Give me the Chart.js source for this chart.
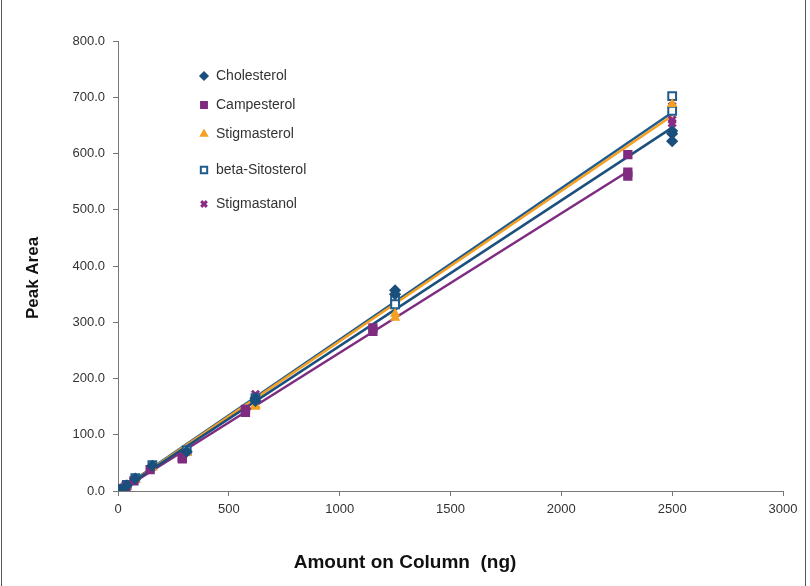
<!DOCTYPE html>
<html>
<head>
<meta charset="utf-8">
<script src="https://cdn.jsdelivr.net/npm/chart.js@4.4.1/dist/chart.umd.min.js"></script>
<style>
  html, body { margin: 0; padding: 0; background: #fff; }
  #wrap { width: 810px; height: 586px; position: relative; }
</style>
</head>
<body>
<div id="wrap"><canvas id="chart"></canvas></div>
<script>
// Data (amount in ng, peak area)
const seriesNames = ["Cholesterol", "Campesterol", "Stigmasterol", "beta-Sitosterol", "Stigmastanol"]

const cholAmount = [5, 10, 40, 78, 155, 310, 620, 620, 1250, 1250, 2500, 2500, 2500]
const cholArea = [1, 3, 10, 22, 45, 70, 160, 165, 357, 350, 640, 635, 622]

const campAmount = [5, 9, 36, 72, 145, 290, 290, 575, 575, 1150, 1150, 2300, 2300, 2300]
const campArea = [0, 2, 8, 18, 38, 60, 57, 140, 145, 290, 284, 598, 567, 560]

const stigAmount = [5, 10, 40, 78, 155, 310, 620, 620, 1250, 1250, 2500]
const stigArea = [1, 3, 9, 20, 42, 68, 150, 153, 315, 308, 688]

const sitoAmount = [5, 10, 40, 78, 155, 310, 620, 1250, 1250, 2500, 2500]
const sitoArea = [1, 3, 11, 23, 46, 72, 165, 342, 332, 702, 676]

const stanolAmount = [5, 10, 40, 78, 155, 310, 620, 1250, 2500, 2500, 2500]
const stanolArea = [1, 3, 10, 21, 43, 70, 172, 345, 684, 660, 654]

// trend lines: [start amount, end amount] and fitted areas
const cholLineX = [0, 2500]
const cholLineY = [-1, 646]
const campLineX = [0, 2300]
const campLineY = [-2, 568]
const stigLineX = [0, 2500]
const stigLineY = [-1, 667]
const sitoLineX = [0, 2500]
const sitoLineY = [0, 673]

const xTicks = [0, 500, 1000, 1500, 2000, 2500, 3000]
const yTicks = [0, 100, 200, 300, 400, 500, 600, 700, 800]

const FONT = '"Liberation Sans", Arial, sans-serif'
const NAVY = "#1b4f7c"
const PURPLE = "#7e2b80"
const ORANGE = "#f5a023"
const BLUE = "#1f5c8e"
const PLUM = "#8a2c85"

function pts(xs, ys) {
  return xs.map((x, i) => ({ x: x, y: ys[i] }))
}

function lineSet(xs, ys, color) {
  return {
    type: "line",
    data: pts(xs, ys),
    borderColor: color,
    borderWidth: 2.5,
    pointRadius: 0,
    fill: false,
    order: 2,
  }
}

const markers = [
  { name: seriesNames[0], style: "rectRot", color: NAVY, fill: NAVY, r: 5, bw: 1.5 },
  { name: seriesNames[1], style: "rect", color: PURPLE, fill: PURPLE, r: 5.5, bw: 1.5 },
  { name: seriesNames[2], style: "triangle", color: ORANGE, fill: ORANGE, r: 4.5, bw: 1.5 },
  { name: seriesNames[3], style: "rect", color: BLUE, fill: "#ffffff", r: 5.5, bw: 2 },
  { name: seriesNames[4], style: "crossRot", color: PLUM, fill: PLUM, r: 5, bw: 3 },
]

function pointSet(xs, ys, m) {
  return {
    type: "scatter",
    data: pts(xs, ys),
    pointStyle: m.style,
    pointRadius: m.r,
    pointBorderColor: m.color,
    pointBackgroundColor: m.fill,
    pointBorderWidth: m.bw,
    showLine: false,
    order: 1,
  }
}

const legendY = [76, 105, 134, 170, 204]

const decorPlugin = {
  id: "decor",
  afterDraw(chart) {
    const ctx = chart.ctx
    ctx.save()
    // frame
    ctx.strokeStyle = "#555"
    ctx.lineWidth = 1
    ctx.beginPath()
    ctx.moveTo(1.5, 0)
    ctx.lineTo(1.5, 586)
    ctx.moveTo(805.5, 0)
    ctx.lineTo(805.5, 586)
    ctx.stroke()

    // legend
    ctx.font = "14px " + FONT
    ctx.textBaseline = "middle"
    ctx.textAlign = "left"
    markers.forEach((m, i) => {
      ctx.strokeStyle = m.color
      ctx.fillStyle = m.fill
      ctx.lineWidth = m.bw
      const r = m.style === "rect" ? 4.5 : 4
      Chart.helpers.drawPoint(ctx, { pointStyle: m.style, radius: r, rotation: 0, borderWidth: m.bw }, 204, legendY[i])
      ctx.fillStyle = "#333"
      ctx.fillText(m.name, 216, legendY[i])
    })

    // axis titles
    ctx.fillStyle = "#111"
    ctx.font = "bold 19px " + FONT
    ctx.textAlign = "center"
    ctx.fillText("Amount on Column  (ng)", 405, 563)
    ctx.translate(33, 278)
    ctx.rotate(-Math.PI / 2)
    ctx.font = "bold 17px " + FONT
    ctx.fillText("Peak Area", 0, 0)
    ctx.restore()
  },
}

new Chart(document.getElementById("chart"), {
  type: "scatter",
  data: {
    datasets: [
      lineSet(cholLineX, cholLineY, NAVY),
      lineSet(campLineX, campLineY, PURPLE),
      lineSet(stigLineX, stigLineY, ORANGE),
      lineSet(sitoLineX, sitoLineY, BLUE),
      pointSet(cholAmount, cholArea, markers[0]),
      pointSet(campAmount, campArea, markers[1]),
      pointSet(stigAmount, stigArea, markers[2]),
      pointSet(sitoAmount, sitoArea, markers[3]),
      pointSet(stanolAmount, stanolArea, markers[4]),
    ],
  },
  options: {
    responsive: true,
    maintainAspectRatio: false,
    animation: false,
    layout: { padding: { top: 41, right: 27, bottom: 0, left: 0 } },
    plugins: {
      legend: { display: false },
      tooltip: { enabled: false },
    },
    scales: {
      x: {
        type: "linear",
        min: 0,
        max: 3000,
        afterBuildTicks: (scale) => {
          scale.ticks = xTicks.map((v) => ({ value: v }))
        },
        afterFit: (scale) => {
          scale.height = 95
        },
        ticks: {
          font: { family: FONT, size: 13 },
          color: "#333",
          padding: 6,
          maxRotation: 0,
          callback: (v) => String(v),
        },
        grid: { drawOnChartArea: false, drawTicks: true, tickLength: 5, color: "#777" },
        border: { display: true, color: "#777", width: 1 },
      },
      y: {
        type: "linear",
        min: 0,
        max: 800,
        afterBuildTicks: (scale) => {
          scale.ticks = yTicks.map((v) => ({ value: v }))
        },
        afterFit: (scale) => {
          scale.width = 118
        },
        ticks: {
          font: { family: FONT, size: 13 },
          color: "#333",
          padding: 8,
          callback: (v) => Number(v).toFixed(1),
        },
        grid: { drawOnChartArea: false, drawTicks: true, tickLength: 5, color: "#777" },
        border: { display: true, color: "#777", width: 1 },
      },
    },
  },
  plugins: [decorPlugin],
})
</script>
</body>
</html>
